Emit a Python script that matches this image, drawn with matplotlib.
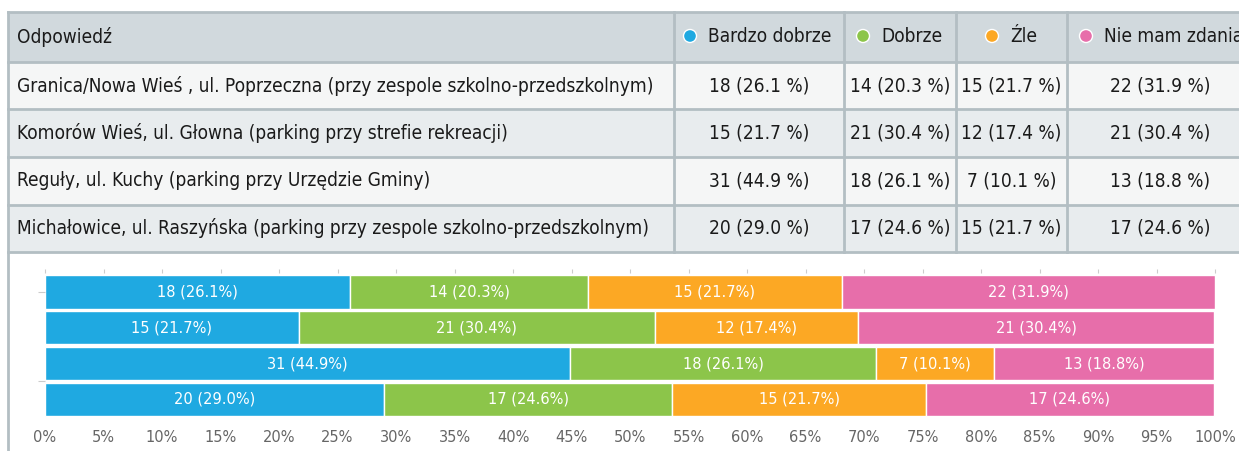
#!/usr/bin/env python

import matplotlib.pyplot as plt
from matplotlib.patches import Rectangle, Circle

# survey data
places = [
    "Granica/Nowa Wieś , ul. Poprzeczna (przy zespole szkolno-przedszkolnym)",
    "Komorów Wieś, ul. Głowna (parking przy strefie rekreacji)",
    "Reguły, ul. Kuchy (parking przy Urzędzie Gminy)",
    "Michałowice, ul. Raszyńska (parking przy zespole szkolno-przedszkolnym)",
]
answers = ["Bardzo dobrze", "Dobrze", "Źle", "Nie mam zdania"]
counts = [
    [18, 14, 15, 22],
    [15, 21, 12, 21],
    [31, 18, 7, 13],
    [20, 17, 15, 17],
]
percents = [
    [26.1, 20.3, 21.7, 31.9],
    [21.7, 30.4, 17.4, 30.4],
    [44.9, 26.1, 10.1, 18.8],
    [29.0, 24.6, 21.7, 24.6],
]
header_first = "Odpowiedź"
x_ticks = list(range(0, 101, 5))

colors = ["#1fa9e1", "#8cc54a", "#fca824", "#e76eaa"]
W, H = 1239, 451

fig = plt.figure(figsize=(W / 100, H / 100), dpi=100)
fig.patch.set_facecolor("white")

# ---- table drawn in pixel coordinates on an overlay axes
tab = fig.add_axes([0, 0, 1, 1])
tab.set_xlim(0, W)
tab.set_ylim(H, 0)
tab.axis("off")

font = dict(family="DejaVu Sans", stretch="condensed", fontsize=13.7, color="#1a1a1a")
border = "#b3bec3"
col_edges = [8, 674, 844, 956, 1067, 1260]
row_edges = [12, 62, 109, 157, 205, 252]
row_bg = ["#d1d9dd", "#f5f6f6", "#e8ecee", "#f5f6f6", "#e8ecee"]

for r in range(5):
    tab.add_patch(Rectangle((col_edges[0], row_edges[r]), col_edges[-1] - col_edges[0],
                            row_edges[r + 1] - row_edges[r], facecolor=row_bg[r],
                            edgecolor="none", zorder=1))
for y in row_edges:
    tab.plot([col_edges[0], col_edges[-1]], [y, y], color=border, lw=2, zorder=2)
for x in col_edges[1:-1]:
    tab.plot([x, x], [row_edges[0], row_edges[-1]], color=border, lw=2, zorder=2)
# outer container border continues down past the chart
tab.plot([col_edges[0], col_edges[0]], [row_edges[0], H], color=border, lw=2, zorder=2)

head_y = (row_edges[0] + row_edges[1]) / 2
tab.text(17, head_y, header_first, va="center", ha="left", zorder=3, **font)
dot_x = [690, 863, 992, 1086]  # legend dots sit at these pixel columns
for j, name in enumerate(answers):
    tab.add_patch(Circle((dot_x[j], head_y - 1), 6.5, facecolor=colors[j], edgecolor="white",
                         lw=1, zorder=3))
    tab.text(dot_x[j] + 18, head_y, name, va="center", ha="left", zorder=3, **font)

for i, name in enumerate(places):
    cy = (row_edges[i + 1] + row_edges[i + 2]) / 2
    tab.text(17, cy, name, va="center", ha="left", zorder=3, **font)
    for j in range(4):
        cx = (col_edges[j + 1] + col_edges[j + 2]) / 2
        if j == 3:
            cx = 1160
        tab.text(cx, cy, "%d (%.1f %%)" % (counts[i][j], percents[i][j]),
                 va="center", ha="center", zorder=3, **font)

# ---- stacked bar chart
ax = fig.add_axes([45 / W, 1 - 418 / H, (1215 - 45) / W, (418 - 273) / H])
for i in range(len(places)):
    left = 0
    for j in range(4):
        p = percents[i][j]
        ax.barh(i, p, left=left, height=0.93, color=colors[j], edgecolor="white", lw=1)
        ax.text(left + p / 2, i, "%d (%.1f%%)" % (counts[i][j], p), ha="center", va="center",
                color="white", fontsize=10.5)
        left += p

ax.set_xlim(0, 100)
ax.set_ylim(3.52, -0.53)
for s in ax.spines.values():
    s.set_visible(False)
ax.set_xticks(x_ticks)
ax.set_xticklabels(["%d%%" % t for t in x_ticks], color="#666666", fontsize=10.5)
ax.tick_params(axis="x", top=True, bottom=False, labelbottom=True, length=3,
               color="#cccccc", pad=6)
ax.set_yticks([0, 2.5])
ax.set_yticklabels([])
ax.tick_params(axis="y", length=5, color="#cccccc")

fig.savefig("out.png", dpi=100)
